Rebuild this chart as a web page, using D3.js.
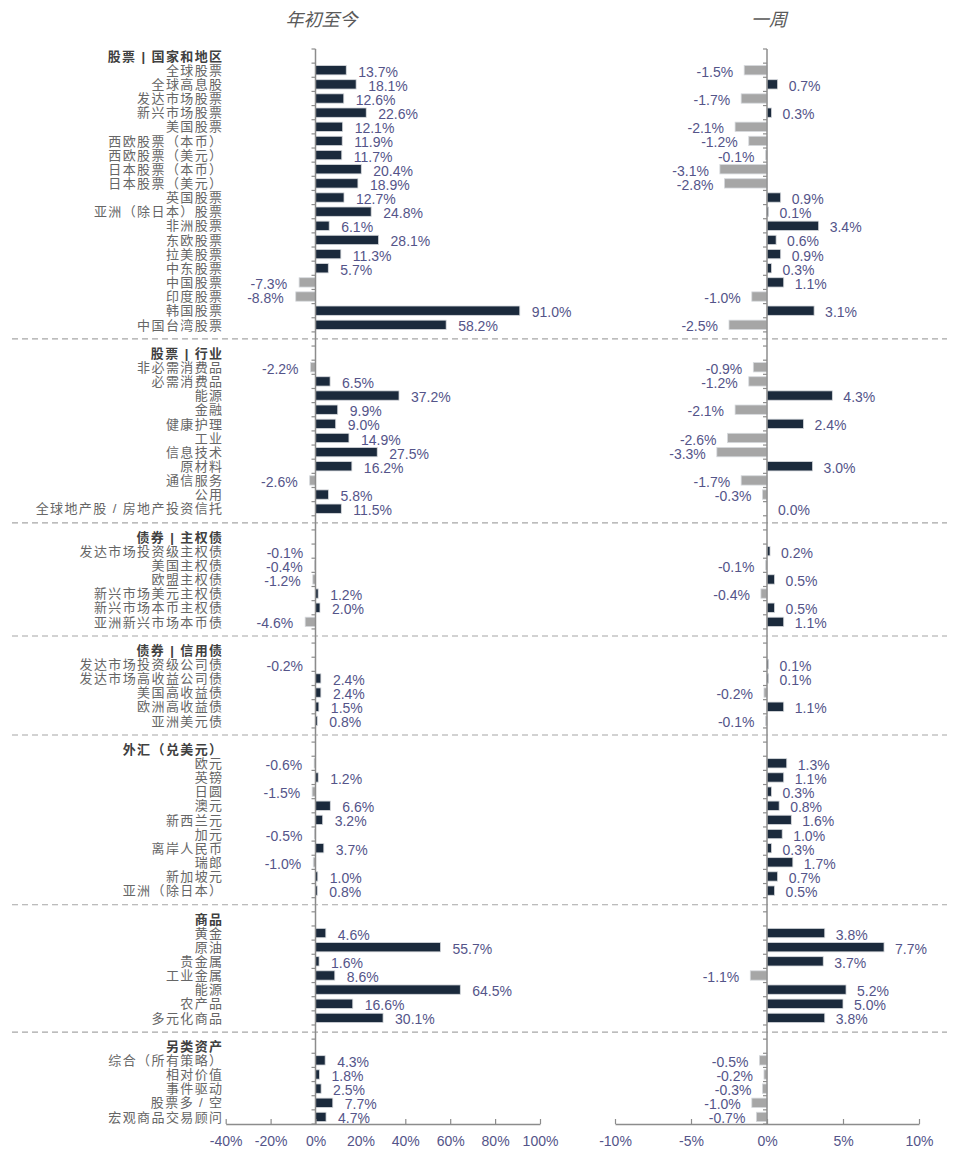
<!DOCTYPE html>
<html>
<head>
<meta charset="utf-8">
<script src="https://cdn.jsdelivr.net/npm/d3@7"></script>
<style>
  body { margin: 0; background: #fff; }
</style>
</head>
<body>
<div id="chart"></div>
<script>
// Asset returns: year to date (left) and one week (right)

const groupNames = ["股票 | 国家和地区", "股票 | 行业", "债券 | 主权债", "债券 | 信用债",
                    "外汇（兑美元）", "商品", "另类资产"];

const categories = [
    ["全球股票", "全球高息股", "发达市场股票", "新兴市场股票", "美国股票", "西欧股票（本币）",
     "西欧股票（美元）", "日本股票（本币）", "日本股票（美元）", "英国股票", "亚洲（除日本）股票",
     "非洲股票", "东欧股票", "拉美股票", "中东股票", "中国股票", "印度股票", "韩国股票", "中国台湾股票"],
    ["非必需消费品", "必需消费品", "能源", "金融", "健康护理", "工业", "信息技术", "原材料",
     "通信服务", "公用", "全球地产股 / 房地产投资信托"],
    ["发达市场投资级主权债", "美国主权债", "欧盟主权债", "新兴市场美元主权债", "新兴市场本币主权债",
     "亚洲新兴市场本币债"],
    ["发达市场投资级公司债", "发达市场高收益公司债", "美国高收益债", "欧洲高收益债", "亚洲美元债"],
    ["欧元", "英镑", "日圆", "澳元", "新西兰元", "加元", "离岸人民币", "瑞郎", "新加坡元", "亚洲（除日本）"],
    ["黄金", "原油", "贵金属", "工业金属", "能源", "农产品", "多元化商品"],
    ["综合（所有策略）", "相对价值", "事件驱动", "股票多 / 空", "宏观商品交易顾问"]
];

const ytdValues = [
    [13.7, 18.1, 12.6, 22.6, 12.1, 11.9, 11.7, 20.4, 18.9, 12.7, 24.8, 6.1, 28.1, 11.3, 5.7, -7.3, -8.8, 91.0, 58.2],
    [-2.2, 6.5, 37.2, 9.9, 9.0, 14.9, 27.5, 16.2, -2.6, 5.8, 11.5],
    [-0.1, -0.4, -1.2, 1.2, 2.0, -4.6],
    [-0.2, 2.4, 2.4, 1.5, 0.8],
    [-0.6, 1.2, -1.5, 6.6, 3.2, -0.5, 3.7, -1.0, 1.0, 0.8],
    [4.6, 55.7, 1.6, 8.6, 64.5, 16.6, 30.1],
    [4.3, 1.8, 2.5, 7.7, 4.7]
];

const weekValues = [
    [-1.5, 0.7, -1.7, 0.3, -2.1, -1.2, -0.1, -3.1, -2.8, 0.9, 0.1, 3.4, 0.6, 0.9, 0.3, 1.1, -1.0, 3.1, -2.5],
    [-0.9, -1.2, 4.3, -2.1, 2.4, -2.6, -3.3, 3.0, -1.7, -0.3, 0.0],
    [0.2, -0.1, 0.5, -0.4, 0.5, 1.1],
    [0.1, 0.1, -0.2, 1.1, -0.1],
    [1.3, 1.1, 0.3, 0.8, 1.6, 1.0, 0.3, 1.7, 0.7, 0.5],
    [3.8, 7.7, 3.7, -1.1, 5.2, 5.0, 3.8],
    [-0.5, -0.2, -0.3, -1.0, -0.7]
];

const ytdTicks = [-40, -20, 0, 20, 40, 60, 80, 100];
const weekTicks = [-10, -5, 0, 5, 10];
const titles = ["年初至今", "一周"];

const width = 959,
      height = 1155;

const posColor = "#1b2a3c",
      negColor = "#a6a6a6",
      labelColor = "#545489",
      axisColor = "#8c8c8c",
      latinFont = "'Liberation Sans', Arial, 'Noto Sans CJK SC', sans-serif",
      cjkFont = "'Liberation Sans', 'Noto Sans CJK SC', sans-serif";

// flatten the groups into rows: separator, header, items
let rows = [];
groupNames.forEach((g, gi) => {
    if (gi > 0) rows.push({ type: "sep" });
    rows.push({ type: "head", name: g });
    categories[gi].forEach((c, ci) => {
        rows.push({ type: "item", name: c, ytd: ytdValues[gi][ci], week: weekValues[gi][ci] });
    });
});
rows.forEach((r, i) => r.idx = i);
const items = rows.filter(r => r.type === "item");

const svg = d3.select("#chart")
    .append("svg")
    .attr("width", width)
    .attr("height", height);

const y = d3.scaleBand()
    .domain(rows.map(r => r.idx))
    .range([49, 1124])
    .paddingInner(0);

const xL = d3.scaleLinear().domain([-40, 100]).range([225.7, 540]);
const xR = d3.scaleLinear().domain([-10, 10]).range([615, 919]);

const barH = y.bandwidth() * 0.66;
// plain hyphen for negatives, like the original
const pct = v => v.toFixed(1) + "%";

// dashed separators between groups
svg.append("g")
    .selectAll("line")
    .data(rows.filter(r => r.type === "sep"))
    .join("line")
    .attr("x1", 12)
    .attr("x2", 947)
    .attr("y1", d => y(d.idx) + y.bandwidth() / 2)
    .attr("y2", d => y(d.idx) + y.bandwidth() / 2)
    .attr("stroke", "#a6a6a6")
    .attr("stroke-width", 1.2)
    .attr("stroke-dasharray", "6,4");

// category labels
svg.append("g")
    .selectAll("text")
    .data(rows.filter(r => r.type !== "sep"))
    .join("text")
    .attr("x", 223.5)
    .attr("y", d => y(d.idx) + y.bandwidth() / 2)
    .attr("dy", "0.36em")
    .attr("text-anchor", "end")
    .style("font-family", cjkFont)
    .style("font-size", "13px")
    .style("letter-spacing", "1.4px")
    .style("font-weight", d => d.type === "head" ? "bold" : "normal")
    .attr("fill", d => d.type === "head" ? "#404040" : "#666666")
    .text(d => d.name);

function drawPanel(x, key, ticks, title, gap) {
    const g = svg.append("g");

    g.append("g")
        .selectAll("rect")
        .data(items)
        .join("rect")
        .attr("x", d => x(Math.min(0, d[key])))
        .attr("y", d => y(d.idx) + (y.bandwidth() - barH) / 2)
        .attr("width", d => Math.abs(x(d[key]) - x(0)))
        .attr("height", barH)
        .attr("fill", d => d[key] < 0 ? negColor : posColor)
        .attr("stroke", d => d[key] === 0 ? "none" : "#d6d9dd")
        .attr("stroke-width", 0.8);

    // vertical zero line with ticks at the row boundaries
    const bounds = d3.range(rows.length + 1).map(i => y.range()[0] + i * y.step());
    g.append("line")
        .attr("x1", x(0)).attr("x2", x(0))
        .attr("y1", y.range()[0]).attr("y2", y.range()[1])
        .attr("stroke", axisColor)
        .attr("stroke-width", 1.5);
    g.append("g")
        .selectAll("line")
        .data(bounds)
        .join("line")
        .attr("x1", x(0) - 4).attr("x2", x(0))
        .attr("y1", d => d).attr("y2", d => d)
        .attr("stroke", axisColor)
        .attr("stroke-width", 1.2);

    // value labels
    g.append("g")
        .selectAll("text")
        .data(items)
        .join("text")
        .attr("x", d => d[key] < 0 ? x(d[key]) - gap : x(d[key]) + gap)
        .attr("y", d => y(d.idx) + y.bandwidth() / 2 + 1.5)
        .attr("dy", "0.36em")
        .attr("text-anchor", d => d[key] < 0 ? "end" : "start")
        .style("font-family", latinFont)
        .style("font-size", "14px")
        .attr("fill", labelColor)
        .text(d => pct(d[key]));

    // bottom axis
    const ax = g.append("g")
        .attr("transform", `translate(0,${y.range()[1]})`)
        .call(d3.axisBottom(x)
            .tickValues(ticks)
            .tickFormat(d => d + "%")
            .tickSizeInner(-5)
            .tickSizeOuter(0)
            .tickPadding(12));
    ax.select(".domain").attr("stroke", axisColor).attr("stroke-width", 1.5);
    ax.selectAll(".tick line").attr("stroke", axisColor).attr("stroke-width", 1.2);
    ax.selectAll(".tick text")
        .style("font-family", latinFont)
        .style("font-size", "14px")
        .attr("fill", labelColor);

    // panel title
    g.append("text")
        .attr("x", x(0) + (x === xL ? 6 : 2))
        .attr("y", 20)
        .attr("dy", "0.36em")
        .attr("text-anchor", "middle")
        .style("font-family", "'Noto Sans CJK SC', sans-serif")
        .style("font-size", "18px")
        .style("font-style", "italic")
        .attr("fill", "#595959")
        .text(title);
}

drawPanel(xL, "ytd", ytdTicks, titles[0], 12);
drawPanel(xR, "week", weekTicks, titles[1], 11);
</script>
</body>
</html>
